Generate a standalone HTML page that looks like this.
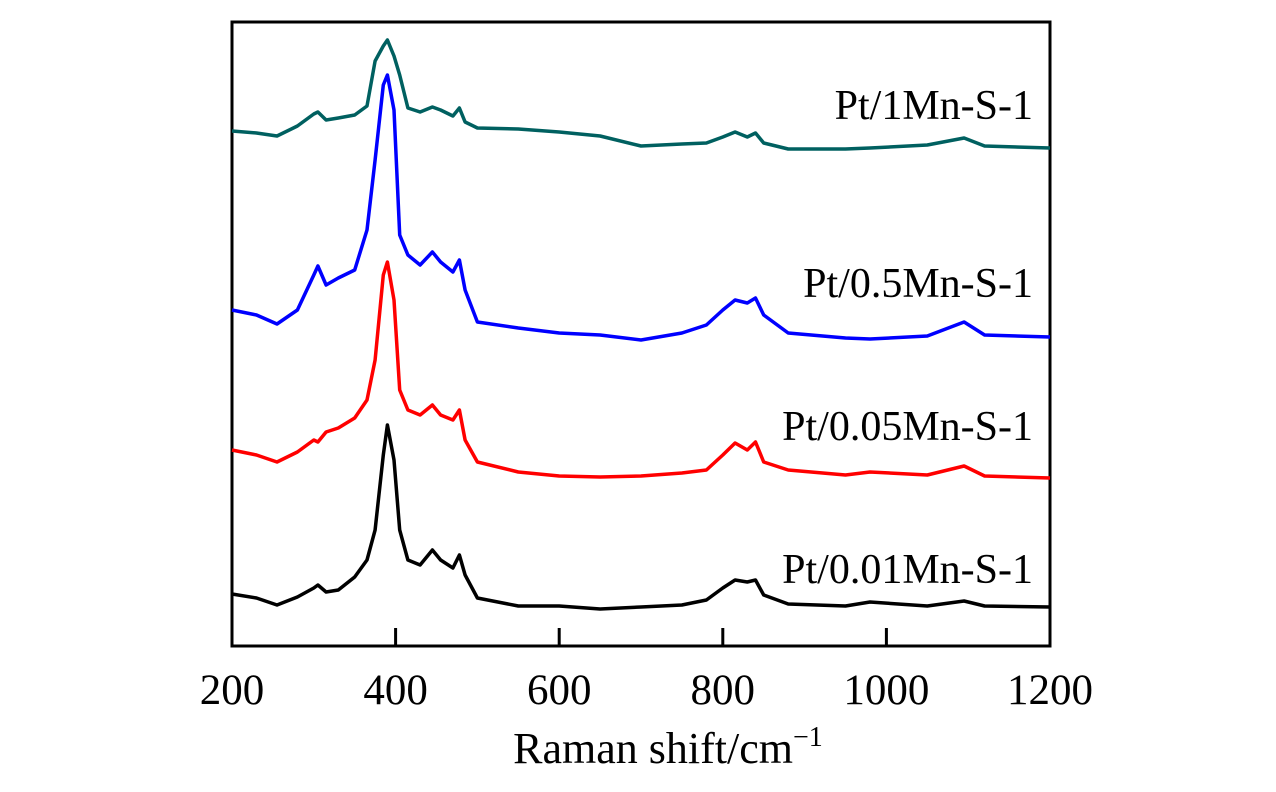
<!DOCTYPE html>
<html><head><meta charset="utf-8"><style>
html,body{margin:0;padding:0;background:#fff;}
svg text{font-family:"Liberation Serif",serif;}
</style></head><body>
<svg id="chart" width="1276" height="787" viewBox="0 0 1276 787">
<rect x="232" y="22" width="818" height="624" fill="none" stroke="#000" stroke-width="3"/>
<g id="ticks"></g>
<g id="series"></g>
<text x="1033" y="119" font-size="42" text-anchor="end">Pt/1Mn-S-1</text>
<text x="1033" y="297" font-size="42" text-anchor="end">Pt/0.5Mn-S-1</text>
<text x="1033" y="440" font-size="42" text-anchor="end">Pt/0.05Mn-S-1</text>
<text x="1033" y="583" font-size="42" text-anchor="end">Pt/0.01Mn-S-1</text>
<text x="668" y="763" font-size="44" text-anchor="middle">Raman shift/cm<tspan font-size="28" dy="-17">−1</tspan></text>
</svg>
<script>
const xTicks = [200, 400, 600, 800, 1000, 1200];
const shift = [200,230,255,280,300,305,315,330,350,365,375,385,390,398,405,415,430,445,455,470,478,485,500,550,600,650,700,750,780,800,815,830,840,850,880,950,980,1050,1095,1120,1200];
const black = [52,48,41,49,58,61,54,56,69,86,116,191,221,186,116,86,81,96,86,78,91,71,48,40,40,37,39,41,46,58,66,64,66,51,42,40,44,40,45,40,39];
const red = [196,191,184,194,206,204,214,218,228,246,286,371,384,346,256,236,231,241,231,226,236,206,184,174,170,169,170,173,176,191,203,196,204,184,176,171,174,171,180,170,168];
const blue = [336,331,322,336,371,380,361,368,376,416,486,561,571,536,411,391,381,394,384,374,386,356,324,318,313,311,306,313,321,336,346,343,348,331,313,308,307,310,324,311,309];
const teal = [515,513,510,520,532,534,526,528,531,540,585,600,606,590,571,538,534,539,536,530,538,524,518,517,514,510,500,502,503,509,514,509,513,503,497,497,498,501,508,500,498];
const colors = ["#000000","#ff0000","#0000ff","#006060"];
const seriesNames = ["pt-0.01mn","pt-0.05mn","pt-0.5mn","pt-1mn"];
const ns = "http://www.w3.org/2000/svg";
function xs(v){return 232 + (v-200)*0.818;}
function ys(v){return 646 - v;}
const tg = document.getElementById('ticks');
xTicks.forEach(t=>{
  if(t>200 && t<1200){
    const l=document.createElementNS(ns,'line');
    l.setAttribute('x1',xs(t));l.setAttribute('x2',xs(t));
    l.setAttribute('y1',646);l.setAttribute('y2',628);
    l.setAttribute('stroke','#000');l.setAttribute('stroke-width','3');
    
    
    tg.appendChild(l);
  }
  const tx=document.createElementNS(ns,'text');
  tx.setAttribute('x',xs(t));tx.setAttribute('y',704);
  tx.setAttribute('font-size','43');tx.setAttribute('text-anchor','middle');
  tx.textContent=t;
  
  
  tg.appendChild(tx);
});
const sg=document.getElementById('series');
[black,red,blue,teal].forEach((arr,i)=>{
  const p=document.createElementNS(ns,'polyline');
  p.setAttribute('points',arr.map((v,j)=>xs(shift[j]).toFixed(1)+','+ys(v).toFixed(1)).join(' '));
  p.setAttribute('fill','none');p.setAttribute('stroke',colors[i]);
  p.setAttribute('stroke-width','3.5');p.setAttribute('stroke-linejoin','round');
  
  
  sg.appendChild(p);
});
</script>
</body></html>
